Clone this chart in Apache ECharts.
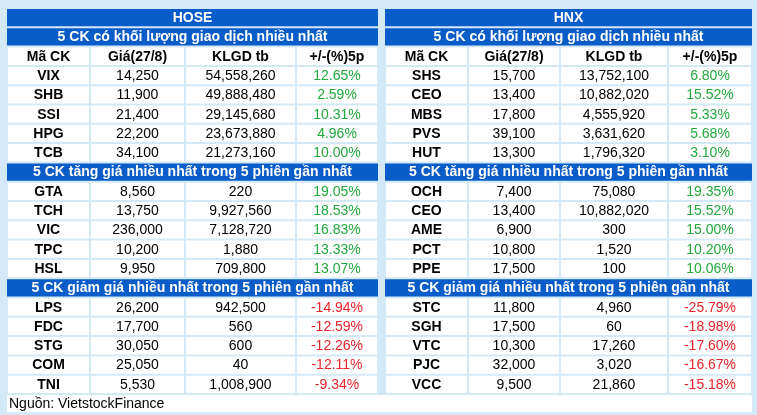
<!DOCTYPE html>
<html lang="vi">
<head>
<meta charset="UTF-8">
<title>Top 5 CK</title>
<script src="https://cdn.jsdelivr.net/npm/echarts@6/dist/echarts.min.js"></script>
</head>
<body style="margin:0">
<div id="main" style="width:757px;height:415px;"></div>
<script>
var exchanges = ['HOSE', 'HNX'];
var sections = ['5 CK có khối lượng giao dịch nhiều nhất', '5 CK tăng giá nhiều nhất trong 5 phiên gần nhất', '5 CK giảm giá nhiều nhất trong 5 phiên gần nhất'];
var colHeaders = ['Mã CK', 'Giá(27/8)', 'KLGD tb', '+/-(%)5p'];
var source = 'Nguồn: VietstockFinance';

// HOSE
var hoseVolCodes = ['VIX', 'SHB', 'SSI', 'HPG', 'TCB'];
var hoseVolPrice = ['14,250', '11,900', '21,400', '22,200', '34,100'];
var hoseVolKlgd = ['54,558,260', '49,888,480', '29,145,680', '23,673,880', '21,273,160'];
var hoseVolPct = ['12.65%', '2.59%', '10.31%', '4.96%', '10.00%'];
var hoseUpCodes = ['GTA', 'TCH', 'VIC', 'TPC', 'HSL'];
var hoseUpPrice = ['8,560', '13,750', '236,000', '10,200', '9,950'];
var hoseUpKlgd = ['220', '9,927,560', '7,128,720', '1,880', '709,800'];
var hoseUpPct = ['19.05%', '18.53%', '16.83%', '13.33%', '13.07%'];
var hoseDownCodes = ['LPS', 'FDC', 'STG', 'COM', 'TNI'];
var hoseDownPrice = ['26,200', '17,700', '30,050', '25,050', '5,530'];
var hoseDownKlgd = ['942,500', '560', '600', '40', '1,008,900'];
var hoseDownPct = ['-14.94%', '-12.59%', '-12.26%', '-12.11%', '-9.34%'];

// HNX
var hnxVolCodes = ['SHS', 'CEO', 'MBS', 'PVS', 'HUT'];
var hnxVolPrice = ['15,700', '13,400', '17,800', '39,100', '13,300'];
var hnxVolKlgd = ['13,752,100', '10,882,020', '4,555,920', '3,631,620', '1,796,320'];
var hnxVolPct = ['6.80%', '15.52%', '5.33%', '5.68%', '3.10%'];
var hnxUpCodes = ['OCH', 'CEO', 'AME', 'PCT', 'PPE'];
var hnxUpPrice = ['7,400', '13,400', '6,900', '10,800', '17,500'];
var hnxUpKlgd = ['75,080', '10,882,020', '300', '1,520', '100'];
var hnxUpPct = ['19.35%', '15.52%', '15.00%', '10.20%', '10.06%'];
var hnxDownCodes = ['STC', 'SGH', 'VTC', 'PJC', 'VCC'];
var hnxDownPrice = ['11,800', '17,500', '10,300', '32,000', '9,500'];
var hnxDownKlgd = ['4,960', '60', '17,260', '3,020', '21,860'];
var hnxDownPct = ['-25.79%', '-18.98%', '-17.60%', '-16.67%', '-15.18%'];

var blocks = [
    [[hoseVolCodes, hoseVolPrice, hoseVolKlgd, hoseVolPct], [hoseUpCodes, hoseUpPrice, hoseUpKlgd, hoseUpPct], [hoseDownCodes, hoseDownPrice, hoseDownKlgd, hoseDownPct]],
    [[hnxVolCodes, hnxVolPrice, hnxVolKlgd, hnxVolPct], [hnxUpCodes, hnxUpPrice, hnxUpKlgd, hnxUpPct], [hnxDownCodes, hnxDownPrice, hnxDownKlgd, hnxDownPct]]
];

var blue = '#0a5cc8', lightBlue = '#d4e9f8', green = '#23a83c', red = '#e8252b';
var font = '"Liberation Sans", Arial, sans-serif';
var top0 = 8, rowH = 19.3;
// column edges per table
var colEdges = [[7, 90, 185, 296, 378], [385, 468, 560, 668, 752]];
var els = [];

els.push({type: 'rect', shape: {x: 0, y: 0, width: 757, height: 415}, style: {fill: lightBlue}});

function bar(x0, x1, y, text, size) {
    els.push({type: 'rect', shape: {x: x0, y: y + 1, width: x1 - x0, height: rowH - 2}, style: {fill: blue}});
    els.push({type: 'text', x: (x0 + x1) / 2, y: y + rowH / 2, style: {text: text, fill: '#fff', font: 'bold ' + size + 'px ' + font, align: 'center', verticalAlign: 'middle'}});
}
function cell(x0, x1, y, text, color, bold) {
    els.push({type: 'rect', shape: {x: x0 + 1, y: y + 1, width: x1 - x0 - 2, height: rowH - 2}, style: {fill: '#fff'}});
    els.push({type: 'text', x: (x0 + x1) / 2, y: y + rowH / 2 + 0.5, style: {text: text, fill: color, font: (bold ? 'bold ' : '') + '14px ' + font, align: 'center', verticalAlign: 'middle'}});
}

for (var t = 0; t < 2; t++) {
    var e = colEdges[t];
    var row = 0;
    bar(e[0], e[4], top0 + rowH * row++, exchanges[t], 14);
    for (var s = 0; s < 3; s++) {
        bar(e[0], e[4], top0 + rowH * row++, sections[s], 14);
        if (s === 0) {
            for (var c = 0; c < 4; c++) cell(e[c], e[c + 1], top0 + rowH * row, colHeaders[c], '#000', true);
            row++;
        }
        var d = blocks[t][s];
        for (var r = 0; r < 5; r++) {
            var y = top0 + rowH * row++;
            for (var c = 0; c < 4; c++) {
                var col = '#000';
                if (c === 3) col = d[3][r].charAt(0) === '-' ? red : green;
                cell(e[c], e[c + 1], y, d[c][r], col, c === 0);
            }
        }
    }
}
els.push({type: 'rect', shape: {x: 7, y: top0 + rowH * 20 + 1, width: 745, height: rowH - 2}, style: {fill: '#fff'}});
els.push({type: 'text', x: 9, y: top0 + rowH * 20.5 + 0.5, style: {text: source, fill: '#000', font: '14px ' + font, align: 'left', verticalAlign: 'middle'}});

var myChart = echarts.init(document.getElementById('main'));
myChart.setOption({animation: false, graphic: {elements: els}});
</script>
</body>
</html>
